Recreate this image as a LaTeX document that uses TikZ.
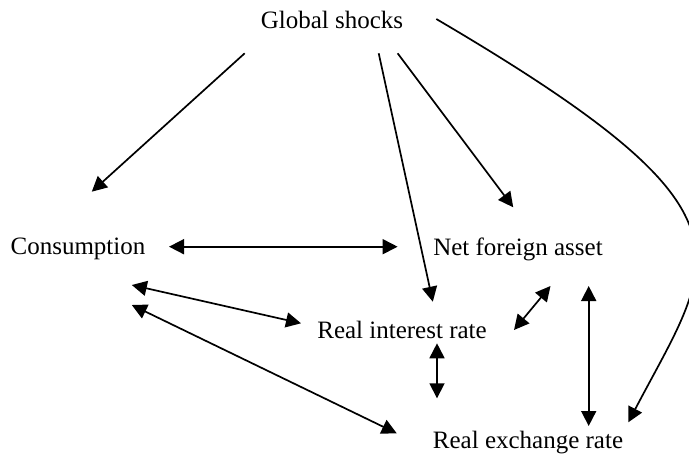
\documentclass[tikz,border=0pt]{standalone}
\usepackage{fontspec}
\setmainfont{Liberation Serif}
\usetikzlibrary{arrows.meta}
\tikzset{%
factor/.style={inner sep=1pt,font=\fontsize{12.5}{15}\selectfont},
link/.style={-{Triangle[length=7.5pt,width=7.5pt]},line width=0.85pt},
twoway/.style={{Triangle[length=7.5pt,width=7.5pt]}-{Triangle[length=7.5pt,width=7.5pt]},line width=0.85pt},
blank/.style={inner sep=0,minimum size=0}
}
\begin{document}
\begin{tikzpicture}[x=0.5pt,y=-0.5pt]

    \useasboundingbox (0,0) rectangle (689,459);

    \node[factor] (shocks) at (332,20) {Global shocks};
    \node[factor] (cons) at (78,249) {Consumption};
    \node[factor] (nfa) at (518,249) {Net foreign asset};
    \node[factor] (rir) at (402,330) {Real interest rate};
    \node[factor] (rer) at (528,443) {Real exchange rate};

    % free ends of the arrows from the shocks
    \coordinate (s1) at (244.7,53.3);
    \coordinate (c1) at (91.8,191.7);
    \coordinate (s2) at (378.7,53.3);
    \coordinate (r1) at (432.8,301.7);
    \coordinate (s3) at (397.6,53.3);
    \coordinate (n1) at (513.2,207.3);
    \coordinate (s4) at (436.3,19);
    \coordinate (e1) at (628.3,422.3);

    % free ends of the two-way arrows
    \coordinate (c2) at (169,246.7);
    \coordinate (n2) at (397.6,246.7);
    \coordinate (c3) at (131.8,285);
    \coordinate (r2) at (301,323.3);
    \coordinate (c4) at (131.8,305);
    \coordinate (e2) at (396.7,433.3);
    \coordinate (r3) at (514,330);
    \coordinate (n3) at (550.5,286);
    \coordinate (r4) at (437,343.3);
    \coordinate (e3) at (437,398.3);
    \coordinate (n4) at (588.7,286);
    \coordinate (e4) at (588.7,426);

    \draw[link] (s1) -- (c1);
    \draw[link] (s2) -- (r1);
    \draw[link] (s3) -- (n1);
    \draw[link] (s4) .. controls (770,215) and (716,255) .. (e1);

    \draw[twoway] (c2) -- (n2);
    \draw[twoway] (c3) -- (r2);
    \draw[twoway] (c4) -- (e2);
    \draw[twoway] (r3) -- (n3);
    \draw[twoway] (r4) -- (e3);
    \draw[twoway] (n4) -- (e4);

\end{tikzpicture}
\end{document}
